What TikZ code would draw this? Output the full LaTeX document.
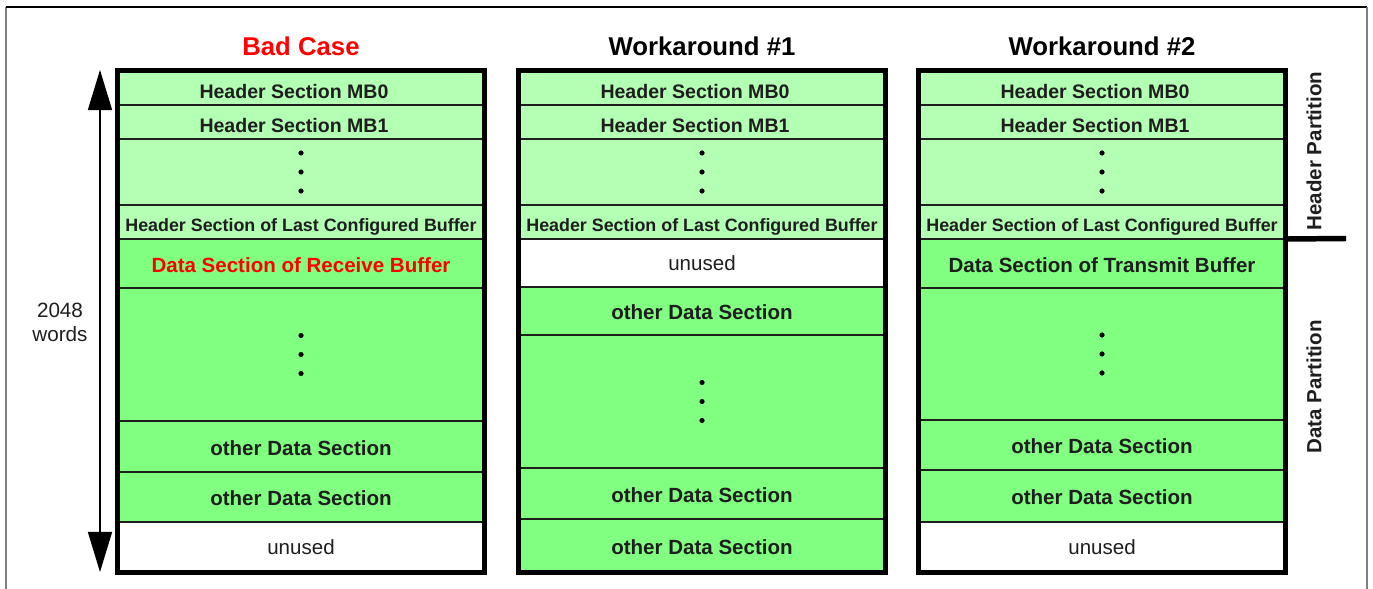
\documentclass[tikz,border=0pt]{standalone}
\usepackage{fontspec}
\setmainfont{Liberation Sans}
\usepackage{xcolor}
\usepackage{tikz}
\usetikzlibrary{positioning, arrows.meta, calc}

\definecolor{hdrgreen}{RGB}{179,255,179}
\definecolor{datgreen}{RGB}{128,255,128}
\definecolor{txtgray}{RGB}{30,30,30}
\definecolor{framegray}{RGB}{128,128,128}

\begin{document}
\begin{tikzpicture}[x=0.025cm, y=-0.025cm,
    cell/.style={draw=txtgray, line width=1.1pt, anchor=north, minimum width=9.175cm, inner sep=0pt, outer sep=0pt, text=txtgray, font=\fontsize{14.6}{16}\selectfont\bfseries},
    ht/.style={minimum height=#1*0.025cm},
    hdr/.style={cell, fill=hdrgreen, text height=14.9pt, text depth=0pt, font=\fontsize{13.9}{16}\selectfont\bfseries},
    lastrow/.style={text height=13.4pt, font=\fontsize{12.7}{14}\selectfont\bfseries},
    dat/.style={cell, fill=datgreen, text height=12.6pt, text depth=0pt},
    unused/.style={cell, fill=white, font=\fontsize{14.6}{16}\selectfont},
    mem/.style={draw, line width=3.6pt, minimum width=9.175cm, minimum height=12.525cm, inner sep=0pt},
    heading/.style={anchor=base, font=\fontsize{18.3}{20}\selectfont\bfseries},
    side/.style={rotate=90, text=txtgray, font=\fontsize{14.6}{16}\selectfont\bfseries}]
    \useasboundingbox (0,0) rectangle (1373,589);

    % Frame
    \draw[framegray, line width=1.4pt] (6,589) -- (6,7);
    \draw[line width=1pt] (6,7) -- (1367,7);
    \draw[framegray, line width=1.4pt] (1367,7) -- (1367,589);

    % Titles
    \node[heading, text=red] (badtitle) at (301,56) {Bad Case};
    \node[heading] (wa1title) at (702,56) {Workaround \#1};
    \node[heading] (wa2title) at (1102,56) {Workaround \#2};

    % Header partition (same in all three)
    \foreach \c/\x in {bad/301, wa1/702, wa2/1102} {
        \node[hdr, ht=34] (\c mb0) at (\x,71) {Header Section MB0\hspace*{0.35cm}};
        \node[hdr, ht=34] (\c mb1) at (\x,105) {Header Section MB1\hspace*{0.35cm}};
        \node[hdr, ht=66] (\c dots) at (\x,139) {};
        \node[hdr, lastrow, ht=34] (\c last) at (\x,205) {Header Section of Last Configured Buffer};
    }

    % Data partition
    \node[dat, ht=49, text=red] (badrecv) at (301,239) {Data Section of Receive Buffer};
    \node[dat, ht=133] (badmid) at (301,288) {};
    \node[dat, ht=51] (badoth1) at (301,421) {other Data Section};
    \node[dat, ht=50] (badoth2) at (301,472) {other Data Section};
    \node[unused, ht=50] (badfree) at (301,522) {unused};

    \node[unused, ht=48] (wa1free) at (702,239) {unused};
    \node[dat, ht=48] (wa1oth1) at (702,287) {other Data Section};
    \node[dat, ht=133] (wa1mid) at (702,335) {};
    \node[dat, ht=51] (wa1oth2) at (702,468) {other Data Section};
    \node[dat, ht=53] (wa1oth3) at (702,519) {other Data Section};

    \node[dat, ht=49] (wa2tx) at (1102,239) {Data Section of Transmit Buffer};
    \node[dat, ht=132] (wa2mid) at (1102,288) {};
    \node[dat, ht=50] (wa2oth1) at (1102,420) {other Data Section};
    \node[dat, ht=52] (wa2oth2) at (1102,470) {other Data Section};
    \node[unused, ht=50] (wa2free) at (1102,522) {unused};

    % Dots
    \foreach \c in {baddots, wa1dots, wa2dots, badmid, wa1mid, wa2mid}
        \foreach \d in {-19,0,19}
            \fill ($(\c.center)+(0,\d)$) circle (0.065cm);

    % Outer boxes
    \node[mem] (badbox) at (301,321.5) {};
    \node[mem] (wa1box) at (702,321.5) {};
    \node[mem] (wa2box) at (1102,321.5) {};

    % Side labels
    \node[side] (hdrpart) at (1314,151) {Header Partition};
    \node[side] (datpart) at (1314,387) {Data Partition};
    \coordinate (markend) at (1346,238.5);
    \draw[line width=3.9pt] (wa2box.east |- wa2tx.north) -- (markend);

    % Size arrow
    \coordinate (spantop) at (100,70);
    \coordinate (spanbot) at (100,572);
    \draw[line width=1pt, {Triangle[width=0.6cm,length=1cm]}-{Triangle[width=0.6cm,length=1cm]}] (spantop) -- (spanbot);
    \node[align=center, text=txtgray, font=\fontsize{14.7}{17}\selectfont] (span) at (60,322) {2048\\words};
\end{tikzpicture}
\end{document}
